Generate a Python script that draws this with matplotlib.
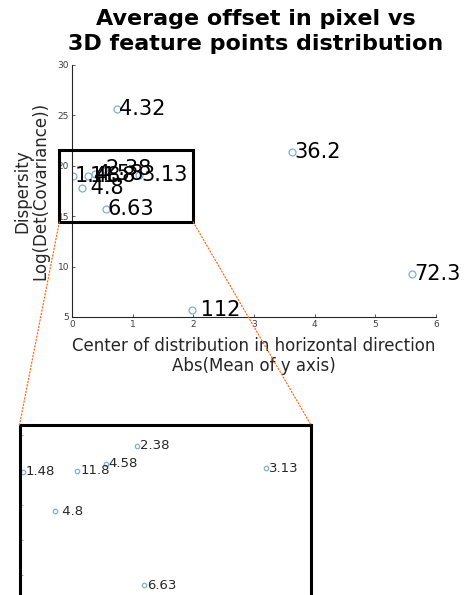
import numpy as np
import matplotlib
matplotlib.use('Agg')
import matplotlib.pyplot as plt
from matplotlib.patches import Rectangle, ConnectionPatch

plt.rcParams['font.family'] = 'DejaVu Sans'

# values
labels = ['4.32', '36.2', '72.3', ' 112', '1.48', '11.8', '4.58', '2.38', '3.13', ' 4.8', '6.63']
x_mean = [0.745, 3.63, 5.61, 1.98, 0.01, 0.256, 0.385, 0.526, 1.107, 0.157, 0.556]
y_disp = [25.6, 21.4, 9.27, 5.7, 18.96, 18.98, 19.18, 19.70, 19.05, 17.82, 15.71]

zoom_box = (-0.21, 14.4, 2.21, 7.17)   # x0, y0, w, h in main data units
inset_xlim = (-0.005, 1.31)
inset_ylim = (15.26, 20.29)

mk = '#7fb0d6'
gray = '#262626'
tickc = '#404040'

fig = plt.figure(figsize=(4.67, 5.95), dpi=100)
ax = fig.add_axes([72/467, 1-317/595, 364/467, 252/595])

ax.plot(x_mean, y_disp, 'o', ls='none', mfc='none', mec=mk, ms=5, mew=0.9)
for xx, yy, lb in zip(x_mean, y_disp, labels):
    ax.annotate(lb, (xx, yy), xytext=(1.5, 0), textcoords='offset points',
                ha='left', va='center', fontsize=15, color='black')

ax.set_xlim(0, 6)
ax.set_ylim(5, 30)
ax.set_xticks(range(0, 7))
ax.set_yticks(range(5, 31, 5))
for s in ['top', 'right']:
    ax.spines[s].set_visible(False)
for s in ['left', 'bottom']:
    ax.spines[s].set_color(gray)
    ax.spines[s].set_linewidth(0.8)
ax.tick_params(direction='in', length=2.5, width=0.6, labelsize=6.5,
               colors=tickc, pad=2)
ax.set_xlabel('Center of distribution in horizontal direction\nAbs(Mean of y axis)',
              fontsize=12, color=gray, labelpad=6, linespacing=1.1)
ax.set_ylabel('Dispersity\nLog(Det(Covariance))', fontsize=12, color=gray,
              labelpad=6, linespacing=1.0)

fig.text(256/467, 1-9/595, 'Average offset in pixel vs\n3D feature points distribution',
         ha='center', va='top', fontsize=16, fontweight='bold', linespacing=1.3)

rect = Rectangle((zoom_box[0], zoom_box[1]), zoom_box[2], zoom_box[3],
                 fill=False, ec='black', lw=2.2, clip_on=False, zorder=5)
ax.add_patch(rect)

# inset
ins = fig.add_axes([19.5/467, -6/595, 291.5/467, 176/595])
xa = np.array(x_mean)
ya = np.array(y_disp)
sel = (xa > inset_xlim[0]) & (xa < inset_xlim[1]) & (ya > inset_ylim[0]) & (ya < inset_ylim[1])
ins.plot(xa[sel], ya[sel], 'o', ls='none', mfc='none', mec=mk, ms=3.2, mew=0.9)
for xx, yy, lb in zip(xa[sel], ya[sel], np.array(labels)[sel]):
    ins.annotate(lb, (xx, yy), xytext=(2, 0), textcoords='offset points',
                 ha='left', va='center', fontsize=9.5, color=gray)
ins.set_xlim(*inset_xlim)
ins.set_ylim(*inset_ylim)
ins.set_yticks(range(16, 21))
ins.set_xticks([])
ins.tick_params(axis='y', direction='in', length=2.5, width=0.6, colors='#999999',
                labelleft=False)
for s in ins.spines.values():
    s.set_linewidth(2.2)
    s.set_color('black')

for cx, ix in [(zoom_box[0], 0), (zoom_box[0] + zoom_box[2], 1)]:
    con = ConnectionPatch(xyA=(cx, zoom_box[1]), coordsA=ax.transData,
                          xyB=(ix, 1), coordsB=ins.transAxes,
                          color='#ff6a1a', lw=0.9, ls=':', zorder=10)
    fig.add_artist(con)

fig.savefig('out.png', dpi=100)
